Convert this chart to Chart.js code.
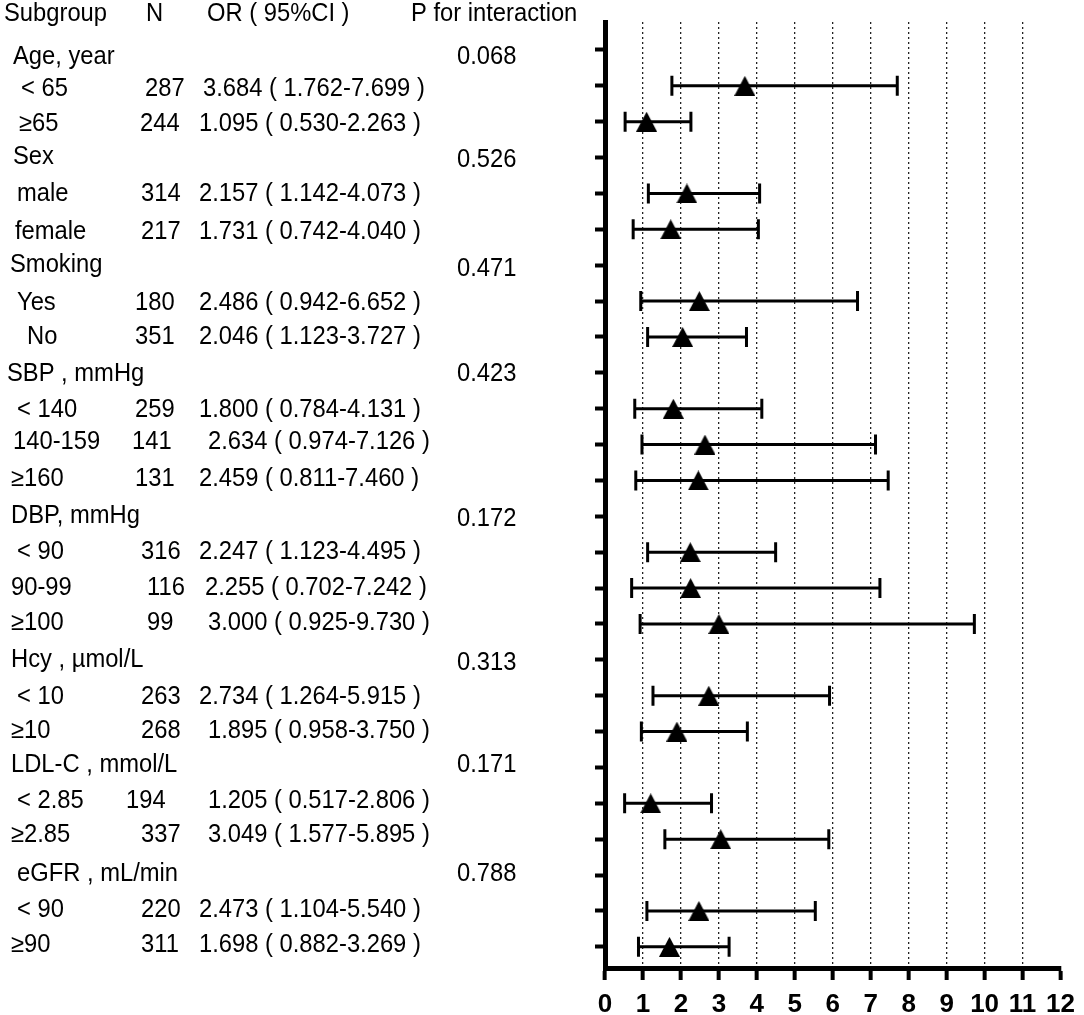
<!DOCTYPE html>
<html>
<head>
<meta charset="utf-8">
<script src="https://cdn.jsdelivr.net/npm/chart.js@4"></script>
<style>
  html, body { margin: 0; padding: 0; background: #fff; }
  #wrap { width: 1084px; height: 1015px; position: relative; }
</style>
</head>
<body>
<div id="wrap"><canvas id="forest"></canvas></div>
<script>
// rows, top to bottom (group header rows carry no estimate)
const rowLabels = ["Age, year", "< 65", "≥65", "Sex", "male", "female", "Smoking", "Yes", "No",
  "SBP , mmHg", "< 140", "140-159", "≥160", "DBP, mmHg", "< 90", "90-99", "≥100",
  "Hcy , µmol/L", "< 10", "≥10", "LDL-C , mmol/L", "< 2.85", "≥2.85", "eGFR , mL/min", "< 90", "≥90"];
const nValues = [null, 287, 244, null, 314, 217, null, 180, 351, null, 259, 141, 131, null, 316, 116, 99,
  null, 263, 268, null, 194, 337, null, 220, 311];
const orValues = [null, 3.684, 1.095, null, 2.157, 1.731, null, 2.486, 2.046, null, 1.800, 2.634, 2.459,
  null, 2.247, 2.255, 3.000, null, 2.734, 1.895, null, 1.205, 3.049, null, 2.473, 1.698];
const ciLow = [null, 1.762, 0.530, null, 1.142, 0.742, null, 0.942, 1.123, null, 0.784, 0.974, 0.811,
  null, 1.123, 0.702, 0.925, null, 1.264, 0.958, null, 0.517, 1.577, null, 1.104, 0.882];
const ciHigh = [null, 7.699, 2.263, null, 4.073, 4.040, null, 6.652, 3.727, null, 4.131, 7.126, 7.460,
  null, 4.495, 7.242, 9.730, null, 5.915, 3.750, null, 2.806, 5.895, null, 5.540, 3.269];
const pInteraction = ["0.068", null, null, "0.526", null, null, "0.471", null, null, "0.423", null, null, null,
  "0.172", null, null, null, "0.313", null, null, "0.171", null, null, "0.788", null, null];
const headers = ["Subgroup", "N", "OR ( 95%CI )", "P for interaction"];
const xTicks = [0, 1, 2, 3, 4, 5, 6, 7, 8, 9, 10, 11, 12];

// text layout: left edge of each column and small vertical nudges, per row
const headerX = [4, 146, 207, 411];
const labelX = [13, 21, 19, 13, 17, 15, 10, 17, 27, 7, 17, 13, 11, 11, 17, 11, 11, 11, 17, 11, 11, 17, 11, 17, 17, 11];
const nX = [0, 145, 140, 0, 141, 141, 0, 135, 135, 0, 135, 132, 135, 0, 141, 147, 147, 0, 141, 141, 0, 126, 141, 0, 141, 141];
const orX = [0, 203, 199, 0, 199, 199, 0, 199, 199, 0, 199, 208, 199, 0, 199, 205, 208, 0, 199, 208, 0, 208, 208, 0, 199, 199];
const textDy = [7, 3, 2, 0, 1, 3, 0, 2, 0, 1, 1, -2, -1, 0, 0, 0, -1, 0, 1, 0, -2, -2, -4, -1, -1, -2];
const pDy = [7, 0, 0, 3, 0, 0, 4, 0, 0, 1, 0, 0, 0, 3, 0, 0, 0, 3, 0, 0, -2, 0, 0, -1, 0, 0];
const pX = 457;

const points = [];
orValues.forEach((v, i) => { if (v !== null) points.push({ x: v, y: i }); });

// filled triangle marker
const tri = document.createElement("canvas");
tri.width = 21; tri.height = 20;
const tc = tri.getContext("2d");
tc.fillStyle = "#000";
tc.beginPath(); tc.moveTo(10.5, 0); tc.lineTo(21, 20); tc.lineTo(0, 20); tc.closePath(); tc.fill();

function squeezeText(ctx, s, x, y) {
  ctx.save();
  ctx.translate(x, y);
  ctx.scale(0.95, 1);
  ctx.fillText(s, 0, 0);
  ctx.restore();
}

const forestPlugin = {
  id: "forest",
  beforeDatasetsDraw(chart) {
    const { ctx, scales: { x, y } } = chart;
    ctx.save();
    ctx.strokeStyle = "#000";
    ctx.lineWidth = 3;
    orValues.forEach((v, i) => {
      if (v === null) return;
      const py = y.getPixelForValue(i);
      const x1 = x.getPixelForValue(ciLow[i]);
      const x2 = x.getPixelForValue(ciHigh[i]);
      ctx.beginPath();
      ctx.moveTo(x1, py); ctx.lineTo(x2, py);
      ctx.moveTo(x1, py - 10); ctx.lineTo(x1, py + 10);
      ctx.moveTo(x2, py - 10); ctx.lineTo(x2, py + 10);
      ctx.stroke();
    });
    ctx.restore();
  },
  afterDraw(chart) {
    const { ctx, scales: { y } } = chart;
    ctx.save();
    ctx.fillStyle = "#000";
    ctx.font = "25px 'Liberation Sans', Arial, sans-serif";
    ctx.textBaseline = "middle";
    ctx.textAlign = "left";
    const hy = y.getPixelForValue(-1);
    headers.forEach((h, k) => squeezeText(ctx, h, headerX[k], hy));
    rowLabels.forEach((lab, i) => {
      const py = y.getPixelForValue(i) + textDy[i];
      squeezeText(ctx, lab, labelX[i], py);
      if (nValues[i] !== null) squeezeText(ctx, String(nValues[i]), nX[i], py);
      if (orValues[i] !== null) {
        const s = orValues[i].toFixed(3) + " ( " + ciLow[i].toFixed(3) + "-" + ciHigh[i].toFixed(3) + " )";
        squeezeText(ctx, s, orX[i], py);
      }
      if (pInteraction[i] !== null) squeezeText(ctx, pInteraction[i], pX, y.getPixelForValue(i) + pDy[i]);
    });
    ctx.restore();
  }
};

new Chart(document.getElementById("forest"), {
  type: "scatter",
  data: {
    datasets: [{
      data: points,
      pointStyle: tri,
      pointRadius: 10,
      pointHoverRadius: 10,
      backgroundColor: "#000",
      borderColor: "#000"
    }]
  },
  options: {
    responsive: true,
    maintainAspectRatio: false,
    animation: false,
    events: [],
    layout: { padding: { top: 22, right: 20, left: 0, bottom: 0 } },
    plugins: { legend: { display: false }, tooltip: { enabled: false } },
    scales: {
      x: {
        type: "linear",
        position: "bottom",
        min: 0,
        max: 12,
        afterBuildTicks: (scale) => { scale.ticks = xTicks.map(v => ({ value: v })); },
        afterFit: (scale) => { scale.height = 47; },
        ticks: {
          color: "#000",
          padding: 9,
          maxRotation: 0,
          autoSkip: false,
          font: { family: "'Liberation Sans', Arial, sans-serif", size: 26, weight: "bold" }
        },
        grid: {
          color: (c) => (c.tick && (c.tick.value === 0 || c.tick.value === 12)) ? "rgba(0,0,0,0)" : "#222",
          lineWidth: 1.3,
          tickColor: "#000",
          tickWidth: 4,
          tickLength: 12
        },
        border: { color: "#000", width: 5, dash: [2, 3] }
      },
      y: {
        type: "linear",
        position: "left",
        reverse: true,
        min: -0.78,
        max: 25.59,
        afterBuildTicks: (scale) => { scale.ticks = rowLabels.map((_, i) => ({ value: i })); },
        afterFit: (scale) => { scale.width = 605; },
        ticks: { display: false },
        grid: {
          drawOnChartArea: false,
          tickColor: "#000",
          tickWidth: 4,
          tickLength: 10
        },
        border: { color: "#000", width: 5 }
      }
    }
  },
  plugins: [forestPlugin]
});
</script>
</body>
</html>
